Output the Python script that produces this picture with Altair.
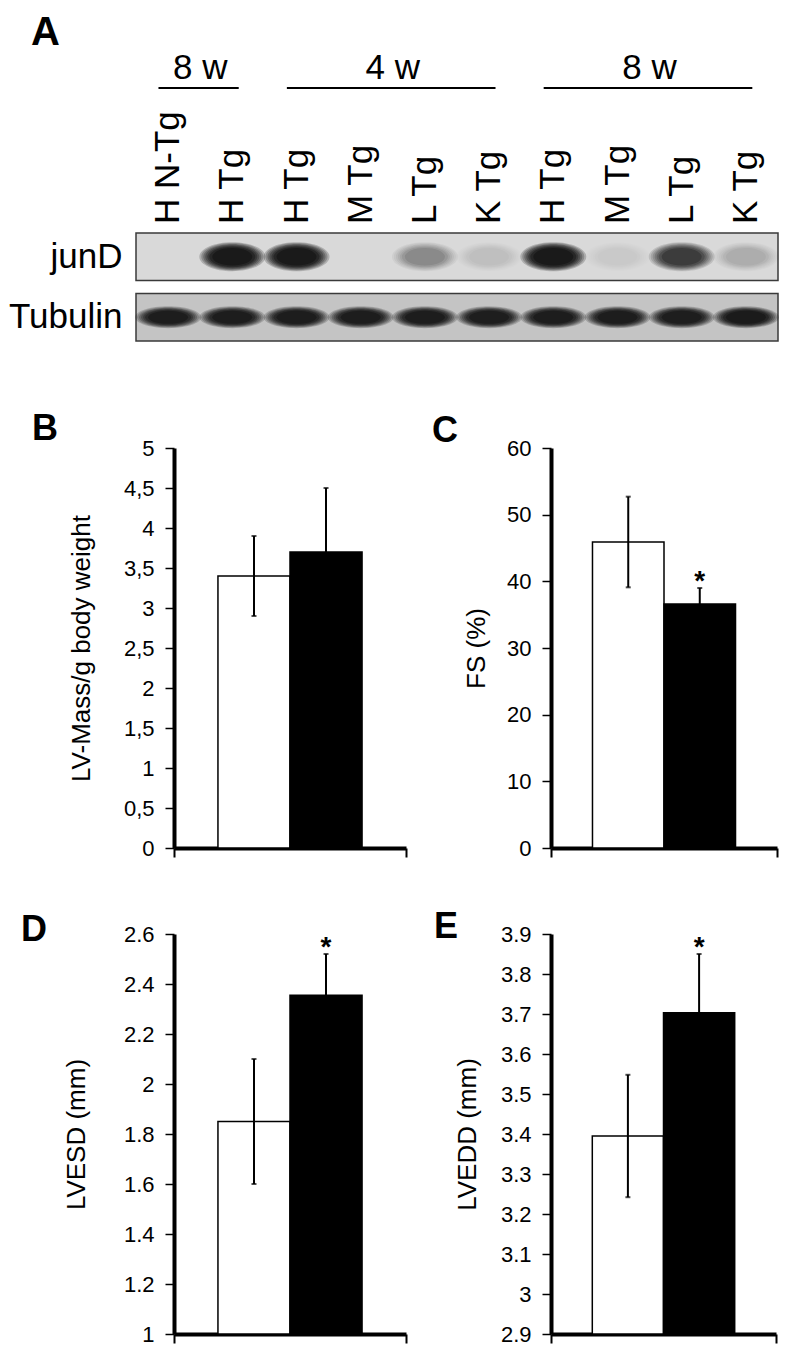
import altair as alt
import pandas as pd

FONT = "Liberation Sans"

# ---------------- Panel A: western blot ----------------
lane_labels = ["H N-Tg", "H Tg", "H Tg", "M Tg", "L Tg", "K Tg", "H Tg", "M Tg", "L Tg", "K Tg"]
group_labels = ["8 w", "4 w", "8 w"]
group_first = [1, 3, 7]
group_last = [2, 6, 10]
blot_rows = ["junD", "Tubulin"]
jund_intensity = [0.0, 1.0, 1.0, 0.0, 0.22, 0.05, 1.0, 0.03, 0.6, 0.1]
tubulin_intensity = [0.9, 0.9, 0.92, 0.9, 0.9, 0.88, 0.9, 0.9, 0.88, 0.95]
panel_letters = ["A", "B", "C", "D", "E"]

# ---------------- Panels B-E: bar charts ----------------
groups = ["N-Tg", "Tg"]
lv_mass = [3.4, 3.7]
lv_mass_err = [0.5, 0.8]
fs = [45.9, 36.6]
fs_err = [6.8, 2.4]
lvesd = [1.85, 2.355]
lvesd_err = [0.25, 0.165]
lvedd = [3.395, 3.703]
lvedd_err = [0.153, 0.147]
sig_b = ["", ""]
sig_c = ["", "*"]
sig_d = ["", "*"]
sig_e = ["", "*"]
ticks_b = [0, 0.5, 1, 1.5, 2, 2.5, 3, 3.5, 4, 4.5, 5]
ticks_c = [0, 10, 20, 30, 40, 50, 60]
ticks_d = [1, 1.2, 1.4, 1.6, 1.8, 2, 2.2, 2.4, 2.6]
ticks_e = [2.9, 3, 3.1, 3.2, 3.3, 3.4, 3.5, 3.6, 3.7, 3.8, 3.9]

lane_ids = list(range(1, len(lane_labels) + 1))


def ellipse_path(r):
    k = 0.5523
    return (f"M -1 0 C -1 {-k*r:.4f} {-k:.4f} {-r} 0 {-r} C {k:.4f} {-r} 1 {-k*r:.4f} 1 0 "
            f"C 1 {k*r:.4f} {k:.4f} {r} 0 {r} C {-k:.4f} {r} -1 {k*r:.4f} -1 0 Z")


def letter_layer(letter, xoff, yoff, size):
    return alt.Chart(pd.DataFrame({"letter": [letter]})).mark_text(
        font=FONT, fontSize=size, fontWeight="bold", align="left", baseline="alphabetic",
        color="black").encode(x=alt.value(xoff), y=alt.value(yoff), text="letter:N")


x_lane = alt.Scale(domain=[0.5, 10.5], range=[-38, 604], nice=False, zero=False)
y_blot = alt.Scale(type="band", domain=blot_rows, range=[0, 108], paddingInner=0.215,
                   paddingOuter=0)
row_axis = alt.Axis(orient="left", domain=False, ticks=False, labelFont=FONT, labelFontSize=35,
                    labelPadding=52, labelColor="black", title=None, grid=False)

# time-group headers and lane labels
hdr = pd.DataFrame({"label": group_labels, "first": group_first, "last": group_last})
hdr_text = alt.Chart(hdr).transform_calculate(mid="(datum.first + datum.last) / 2").mark_text(
    font=FONT, fontSize=35, baseline="alphabetic", color="black").encode(
    x=alt.X("mid:Q", scale=x_lane, axis=None), y=alt.value(-154), text="label:N")
hdr_rule = alt.Chart(hdr).transform_calculate(
    start="datum.first - 0.15", end="datum.last + 0.1").mark_rule(
    color="black", strokeWidth=2).encode(
    x=alt.X("start:Q", scale=x_lane, axis=None), x2="end:Q", y=alt.value(-145))
lane_df = pd.DataFrame({"lane": lane_ids, "name": lane_labels})
lane_text = alt.Chart(lane_df).mark_text(
    font=FONT, fontSize=35, angle=270, align="left", baseline="middle", color="black").encode(
    x=alt.X("lane:Q", scale=x_lane, axis=None), y=alt.value(-9), text="name:N")

rows_df = pd.DataFrame({"row": blot_rows})
band_df = pd.DataFrame({
    "lane": lane_ids * 2,
    "row": [blot_rows[0]] * len(lane_ids) + [blot_rows[1]] * len(lane_ids),
    "intensity": jund_intensity + tubulin_intensity,
})
box = alt.Chart(rows_df).mark_rect(stroke="#3a3a3a", strokeWidth=1.5).encode(
    x=alt.XDatum(0.5, type="quantitative", scale=x_lane, axis=None),
    x2=alt.X2Datum(10.5),
    y=alt.Y("row:N", scale=y_blot, axis=row_axis),
    fill=alt.condition(alt.datum.row == blot_rows[0], alt.value("#d9d9d9"), alt.value("#c4c4c4")))

shape_scale = alt.Scale(domain=blot_rows, range=[ellipse_path(0.44), ellipse_path(0.33)])
band_layers = []
for width, op in [(66, 0.2), (62, 0.22), (58, 0.25), (54, 0.28), (50, 0.32), (46, 0.38), (40, 0.45)]:
    band_layers.append(
        alt.Chart(band_df).mark_point(filled=True, color="#0b0b0b", strokeWidth=0,
                                      size=width * width).encode(
            x=alt.X("lane:Q", scale=x_lane, axis=None),
            y=alt.Y("row:N", scale=y_blot, axis=row_axis),
            shape=alt.Shape("row:N", scale=shape_scale, legend=None),
            opacity=alt.Opacity("intensity:Q", scale=alt.Scale(domain=[0, 1], range=[0, op]),
                                legend=None)))

panel_a = alt.layer(box, *band_layers, hdr_text, hdr_rule, lane_text,
                    letter_layer(panel_letters[0], -143, -188, 40)).resolve_scale(
    opacity="independent").properties(width=232, height=129)

placeholder = alt.Chart(pd.DataFrame({"v": [0]})).mark_point().encode(
    opacity=alt.value(0)).properties(width=226, height=129)


# ---------------- bar panels ----------------
def bar_panel(letter, values, errs, sig, ytitle, domain, ticks, comma, width, height, po,
              tpad, lx, ly):
    df = pd.DataFrame({"group": groups, "value": values, "err": errs, "sig": sig})
    base = alt.Chart(df).transform_calculate(lo="datum.value - datum.err",
                                             hi="datum.value + datum.err")
    ysc = alt.Scale(domain=domain, clamp=True, nice=False, zero=False)
    xsc = alt.Scale(type="band", domain=groups, paddingInner=0, paddingOuter=po)
    lexpr = "replace(toString(datum.value), '.', ',')" if comma else "toString(datum.value)"
    yax = alt.Axis(values=ticks, labelExpr=lexpr, domainWidth=4, domainColor="black",
                   tickSize=9, tickWidth=1.5, tickColor="black", labelFont=FONT, labelFontSize=22,
                   labelPadding=11, labelColor="black", titleFont=FONT, titleFontSize=26,
                   titleFontWeight="normal", titlePadding=tpad, titleColor="black", grid=False)
    xenc = alt.X("group:N", scale=xsc, axis=None)
    bars = base.mark_bar(stroke="black", strokeWidth=1.5).encode(
        x=xenc,
        y=alt.Y("value:Q", scale=ysc, axis=yax, title=ytitle),
        fill=alt.condition(alt.datum.group == groups[0], alt.value("white"), alt.value("black")))
    err = base.mark_rule(color="black", strokeWidth=2).encode(
        x=xenc, y=alt.Y("lo:Q", scale=ysc, axis=yax, title=ytitle), y2="hi:Q")
    cap_lo = base.mark_tick(color="black", size=5, thickness=2, orient="horizontal").encode(
        x=xenc, y=alt.Y("lo:Q", scale=ysc, axis=yax, title=ytitle))
    cap_hi = base.mark_tick(color="black", size=5, thickness=2, orient="horizontal").encode(
        x=xenc, y=alt.Y("hi:Q", scale=ysc, axis=yax, title=ytitle))
    star = base.mark_text(font=FONT, fontSize=28, fontWeight="bold", baseline="alphabetic",
                          dy=2, color="black").encode(
        x=xenc, y=alt.Y("hi:Q", scale=ysc, axis=yax, title=ytitle), text="sig:N")
    xaxis_layer = base.mark_point(opacity=0).encode(
        x=alt.XDatum(0.5, type="quantitative", scale=alt.Scale(domain=[0, 1], nice=False),
                     axis=alt.Axis(orient="bottom", values=[0, 1], labels=False, tickSize=9,
                                   tickWidth=2, tickColor="black", domainWidth=4,
                                   domainColor="black", grid=False, title=None)))
    return alt.layer(bars, err, cap_lo, cap_hi, star, xaxis_layer,
                     letter_layer(letter, lx, ly, 36)).resolve_scale(
        x="independent").properties(width=width, height=height)


pB = bar_panel(panel_letters[1], lv_mass, lv_mass_err, sig_b, "LV-Mass/g body weight", [0, 5],
               ticks_b, True, 232, 400, 0.61, 29, -142, -8)
pC = bar_panel(panel_letters[2], fs, fs_err, sig_c, "FS (%)", [0, 60], ticks_c, False,
               226, 400, 0.58, 17, -119, -6)
pD = bar_panel(panel_letters[3], lvesd, lvesd_err, sig_d, "LVESD (mm)", [1, 2.6], ticks_d, False,
               232, 400, 0.61, 34, -153, 7)
pE = bar_panel(panel_letters[4], lvedd, lvedd_err, sig_e, "LVEDD (mm)", [2.9, 3.9], ticks_e,
               False, 225, 400, 0.58, 20, -117, 4)

chart = alt.concat(panel_a, placeholder, pB, pC, pD, pE, columns=2,
                   spacing=alt.RowColnumber(row=86, column=145), bounds="flush",
                   align="each").properties(
    padding={"top": 5, "left": 0, "right": 0, "bottom": 0},
    background="white").configure_view(stroke="transparent", strokeWidth=0)

chart.save("out.html", embed_options={"renderer": "svg", "actions": False})
